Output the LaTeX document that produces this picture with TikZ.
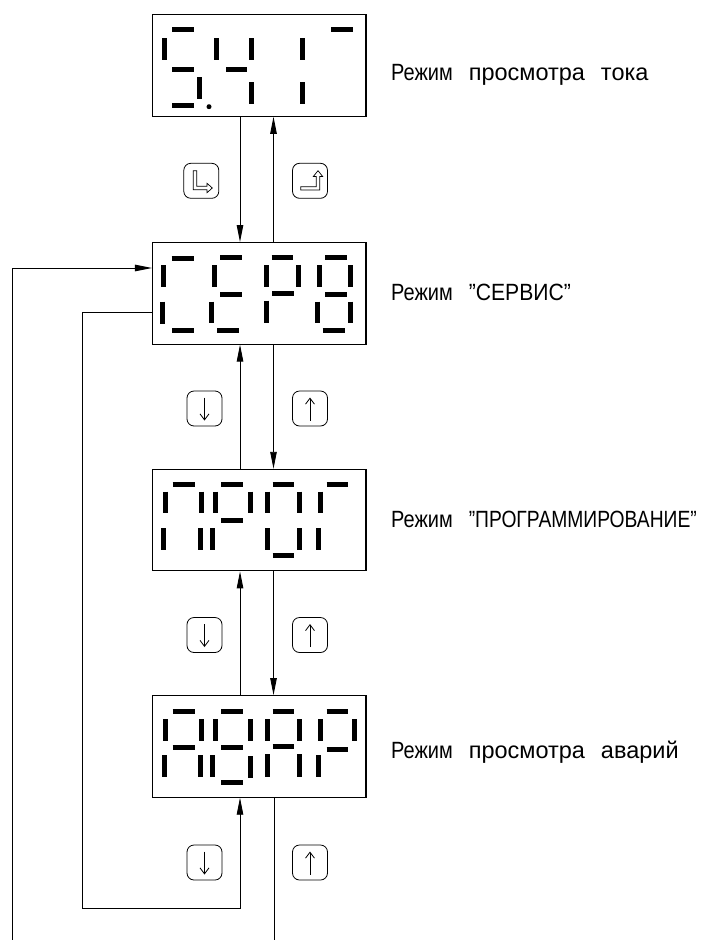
\documentclass[tikz,border=0pt]{standalone}
\usepackage{fontspec}
\setmainfont{Liberation Sans}
\usetikzlibrary{arrows.meta}
\newcommand\hsg[3]{\draw[segm] (#1,#3) -- (#2,#3);}
\newcommand\vsg[3]{\draw[segm] (#1,#2) -- (#1,#3);}
\newcommand\rezh{\scalebox{0.85}[1]{Режим}}
\tikzset{
  segm/.style={line width=5pt, line cap=butt},
  dispbox/.style={draw, line width=1.1pt, minimum width=213.5pt, minimum height=101.5pt, inner sep=0pt},
  btn/.style={draw, rounded corners=7pt, line width=0.8pt, minimum width=35pt, minimum height=35pt, inner sep=0pt},
  conn/.style={line width=0.9pt},
  arr/.style={conn, -{Triangle[length=17pt,width=6.5pt]}},
  lbl/.style={anchor=base west, inner sep=0pt, font=\fontsize{23.5}{28}\selectfont},
  icon/.style={line width=0.7pt, line join=miter},
  barb/.style={line width=0.8pt, -{Straight Barb[length=6pt,width=9pt]}}
}
\begin{document}
\begin{tikzpicture}[x=1pt,y=-1pt]
\useasboundingbox (0,0) rectangle (715,940);
\fill[white] (0,0) rectangle (715,940);

% display boxes
\node[dispbox] (b1) at (259.25,65.5) {};
\node[dispbox] (b2) at (259.25,293.35) {};
\node[dispbox] (b3) at (259.25,520.1) {};
\node[dispbox] (b4) at (259.25,746.4) {};

% labels
\node[lbl] (t1) at (391,80) {\rezh\hspace{16pt}просмотра\hspace{16pt}тока};
\node[lbl] (t2) at (391,300.7) {\rezh\hspace{16pt}\scalebox{0.9}[1]{”СЕРВИС”}};
\node[lbl] (t3) at (391,527.3) {\rezh\hspace{16pt}\scalebox{0.82}[1]{”ПРОГРАММИРОВАНИЕ”}};
\node[lbl] (t4) at (391,758.3) {\rezh\hspace{16pt}просмотра\hspace{16pt}аварий};

% box 1 segments
\hsg{172.3}{194}{29.7}\hsg{331}{352.7}{29.7}\hsg{172}{194}{69}\hsg{226}{247.3}{69}\hsg{172}{194}{105}
\vsg{164.3}{38}{60}\vsg{216.7}{38}{60}\vsg{251.7}{38}{60}\vsg{302.3}{38}{60}
\vsg{199.3}{77.3}{99}\vsg{251.7}{82}{104}\vsg{302.3}{82}{104}
\fill (209,106.7) circle (2.5pt);

% box 2 segments
\hsg{171.7}{194}{258.3}\hsg{220}{241.7}{257.7}\hsg{220}{241.7}{294}\hsg{217.3}{239}{330}\hsg{172.3}{194}{330}
\hsg{271.7}{293.3}{257.7}\hsg{272.3}{294.3}{293.3}\hsg{325}{347.3}{257.7}\hsg{325}{347.3}{294}\hsg{322.7}{345}{330}
\vsg{163.3}{265}{286.7}\vsg{162.7}{301.7}{324}\vsg{214}{265}{286.7}\vsg{211.7}{301.7}{323.3}
\vsg{266.7}{265}{287}\vsg{298.3}{265}{287}\vsg{266.7}{300.7}{322.7}
\vsg{319.3}{265}{287}\vsg{350.7}{265}{287}\vsg{317.3}{301.7}{323.3}\vsg{350.7}{301.7}{323.3}

% box 3 segments
\hsg{172.7}{195}{484.7}\hsg{221}{242.7}{484.7}\hsg{221}{242.7}{520.7}\hsg{272.7}{294.3}{484.7}\hsg{272.7}{294.3}{555.7}\hsg{326.7}{348.3}{484.7}
\vsg{165}{491.7}{513.3}\vsg{201.7}{491.7}{513.3}\vsg{163.3}{528.3}{550}\vsg{200}{528.3}{550}
\vsg{215}{491.7}{513.3}\vsg{250.7}{491.7}{513.3}\vsg{212.7}{528.3}{550}
\vsg{267.7}{491.7}{513.3}\vsg{299.3}{491.7}{513.3}\vsg{267.7}{528.3}{550}\vsg{299.3}{528.3}{550}
\vsg{320}{491.7}{513.3}\vsg{318.7}{528.3}{550}

% box 4 segments
\hsg{172.7}{195}{711.7}\hsg{172.7}{195}{747.7}\hsg{221}{242.7}{711.7}\hsg{221}{242.7}{747.7}\hsg{221}{242.7}{782.3}
\hsg{272.7}{294.3}{711.7}\hsg{272.7}{294.3}{746}\hsg{326.7}{348.3}{711.7}\hsg{326.7}{348.3}{749}
\vsg{165}{719}{741}\vsg{201.7}{719}{741}\vsg{164}{755}{777.3}\vsg{200}{755}{777.3}
\vsg{215}{719}{741}\vsg{250.7}{719}{741}\vsg{212.7}{755}{777.3}\vsg{250.7}{756}{778.3}
\vsg{267.7}{719}{741}\vsg{299.3}{719}{741}\vsg{267.7}{754}{776.7}\vsg{299.3}{754}{776.7}
\vsg{320}{719}{741}\vsg{354}{719}{741}\vsg{318.7}{755}{777}

% connector x positions
\coordinate (xl) at (240,0);
\coordinate (xr) at (273.5,0);

% vertical connectors
\draw[arr] (b1.south -| xl) -- (b2.north -| xl);
\draw[arr] (b2.north -| xr) -- (b1.south -| xr);
\draw[arr] (b3.north -| xl) -- (b2.south -| xl);
\draw[arr] (b2.south -| xr) -- (b3.north -| xr);
\draw[arr] (b4.north -| xl) -- (b3.south -| xl);
\draw[arr] (b3.south -| xr) -- (b4.north -| xr);

% loop connectors
\coordinate (L0) at (0,312);
\coordinate (L1) at (82,312);
\coordinate (L2) at (82,908);
\coordinate (L3) at (240,908);
\draw[arr] (b2.west |- L0) -- (L1) -- (L2) -- (L3) -- (b4.south -| xl);
\coordinate (R1) at (274.5,940);
\draw[conn] (b4.south -| R1) -- (R1);
\coordinate (O1) at (12,940);
\coordinate (O2) at (12,268);
\draw[arr] (O1) -- (O2) -- (b2.west |- O2);

% buttons row 1
\node[btn] (k1) at (201.3,180.8) {};
\node[btn] (k2) at (310,180.8) {};
\begin{scope}[shift={(k1.center)}]
\draw[icon] (-8,-10.1) -- (-4.6,-10.1) -- (-4.6,5.5) -- (5.7,5.5) -- (5.7,2.5) -- (11,7.2) -- (5.7,11.9) -- (5.7,8.9) -- (-8,8.9) -- cycle;
\end{scope}
\begin{scope}[shift={(k2.center)}]
\draw[icon] (-9.3,5.9) -- (6.3,5.9) -- (6.3,-4.3) -- (3.3,-4.3) -- (8,-10.1) -- (12.7,-4.3) -- (9.7,-4.3) -- (9.7,9.2) -- (-9.3,9.2) -- cycle;
\end{scope}

% buttons rows 2-4
\node[btn] (d2) at (204.5,408.5) {};
\node[btn] (u2) at (310,408.5) {};
\node[btn] (d3) at (204.5,635) {};
\node[btn] (u3) at (310,635) {};
\node[btn] (d4) at (204.5,862.5) {};
\node[btn] (u4) at (310,862.5) {};
\foreach \k in {d2,d3,d4}{
  \draw[barb] ([yshift=11pt]\k.center) -- ([yshift=-12pt]\k.center);
}
\foreach \k in {u2,u3,u4}{
  \draw[barb] ([yshift=-12pt]\k.center) -- ([yshift=11pt]\k.center);
}
\end{tikzpicture}
\end{document}
